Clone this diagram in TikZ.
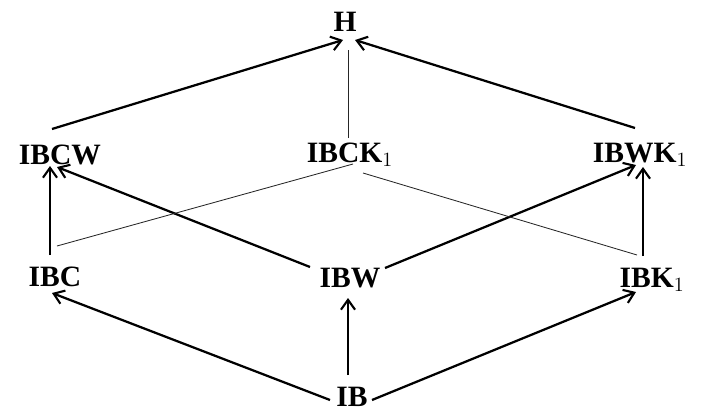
\documentclass[tikz,border=0pt]{standalone}
\usepackage{fontspec}
\setmainfont{Liberation Serif}
\usetikzlibrary{arrows.meta,calc}

\begin{document}
\begin{tikzpicture}[x=0.025cm,y=-0.025cm,
   lbl/.style={font=\fontsize{21}{24}\selectfont\bfseries, inner sep=0pt},
   arr/.style={line width=1.6pt, -{Straight Barb[length=7pt,width=10pt,line width=1.5pt]}},
   thin/.style={line width=0.6pt, black!85}]%
   \useasboundingbox (0,0) rectangle (703,414);
   \node[lbl] (h)    at (345,22)  {H};
   \node[lbl] (ibcw) at (60,155)  {IBCW};
   \node[lbl] (ibck) at (350,155) {IBCK$_1$};
   \node[lbl] (ibwk) at (640,155) {IBWK$_1$};
   \node[lbl] (ibc)  at (55,277)  {IBC};
   \node[lbl] (ibw)  at (350,278) {IBW};
   \node[lbl] (ibk)  at (652,280) {IBK$_1$};
   \node[lbl] (ib)   at (352,397) {IB};
   \draw[arr] ($(ib)+(-22,3)$) -- ($(ibc)+(-3,16)$);
   \draw[arr] ($(ib)+(-4,-22)$) -- ($(ibw)+(-2,20)$);
   \draw[arr] ($(ib)+(20,3)$) -- ($(ibk)+(-16,12)$);
   \draw[arr] ($(ibc)+(-5,-22)$) -- ($(ibcw)+(-10,11)$);
   \draw[arr] ($(ibw)+(-40,-11)$) -- ($(ibcw)+(-3,12)$);
   \draw[arr] ($(ibw)+(35,-10)$) -- ($(ibwk)+(-4,10)$);
   \draw[arr] ($(ibk)+(-9,-24)$) -- ($(ibwk)+(3,12)$);
   \draw[thin] ($(ibck)+(3,9)$) -- ($(ibc)+(2,-31)$);
   \draw[thin] ($(ibck)+(13,18)$) -- ($(ibk)+(-15,-25)$);
   \draw[thin] ($(ibck)+(-2,-17)$) -- ($(h)+(3,28)$);
   \draw[arr] ($(ibcw)+(-8,-26)$) -- ($(h)+(-2,18)$);
   \draw[arr] ($(ibwk)+(-5,-27)$) -- ($(h)+(10,18)$);
\end{tikzpicture}
\end{document}
